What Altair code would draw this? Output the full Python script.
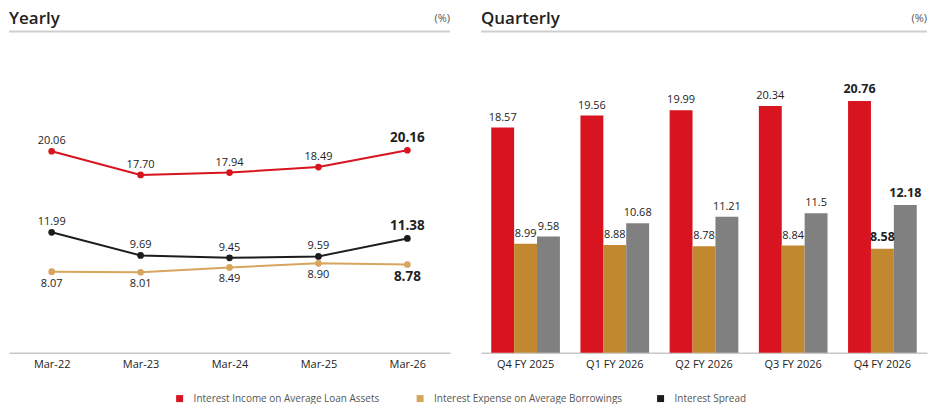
import pandas as pd
import altair as alt

FONT = "Open Sans"

# -------------------------
# data
# -------------------------
SERIES = [
    "Interest Income on Average Loan Assets",
    "Interest Expense on Average Borrowings",
    "Interest Spread",
]

YEARS = ["Mar-22", "Mar-23", "Mar-24", "Mar-25", "Mar-26"]
INCOME_Y = [20.06, 17.70, 17.94, 18.49, 20.16]
EXPENSE_Y = [8.07, 8.01, 8.49, 8.90, 8.78]
SPREAD_Y = [11.99, 9.69, 9.45, 9.59, 11.38]

QUARTERS = ["Q4 FY 2025", "Q1 FY 2026", "Q2 FY 2026", "Q3 FY 2026", "Q4 FY 2026"]
INCOME_Q = [18.57, 19.56, 19.99, 20.34, 20.76]
EXPENSE_Q = [8.99, 8.88, 8.78, 8.84, 8.58]
SPREAD_Q = [9.58, 10.68, 11.21, 11.5, 12.18]

LINE_COLORS = ["#d7141f", "#d8a55e", "#1c1c1c"]
BAR_COLORS = ["#d7141f", "#c1882f", "#808080"]

UNIT = "(%)"

W1, W2, H = 442, 447, 322

yearly = pd.DataFrame({
    "period": YEARS * 3,
    "series": [s for s in SERIES for _ in YEARS],
    "value": INCOME_Y + EXPENSE_Y + SPREAD_Y,
})
yearly["label"] = yearly["value"].map(lambda v: f"{v:.2f}")
yearly["last"] = yearly["period"] == YEARS[-1]
yearly["below"] = yearly["series"] == SERIES[1]

quarterly = pd.DataFrame({
    "period": QUARTERS * 3,
    "series": [s for s in SERIES for _ in QUARTERS],
    "value": INCOME_Q + EXPENSE_Q + SPREAD_Q,
})
quarterly["label"] = quarterly["value"].map(str)
quarterly["last"] = quarterly["period"] == QUARTERS[-1]

x_axis = alt.Axis(
    title=None, labelAngle=0, ticks=False, labelPadding=6,
    labelFont=FONT, labelFontSize=11, labelColor="#222",
    domainColor="#c8c8c8", domainWidth=1.5,
)


# panel header: title at left, unit at right, grey rule on top of the plot
def header(title, width):
    head = pd.DataFrame({"title": [title], "unit": [UNIT]})
    top_rule = alt.Chart(head).mark_rule(color="#cfcfcf", strokeWidth=2).encode(
        x=alt.value(0), x2=alt.value(width), y=alt.value(0)
    )
    name = alt.Chart(head).mark_text(
        align="left", baseline="middle", font=FONT, fontSize=17,
        fontWeight=600, color="#222"
    ).encode(text="title:N", x=alt.value(0), y=alt.value(-12))
    unit = alt.Chart(head).mark_text(
        align="right", baseline="middle", font=FONT, fontSize=11, color="#555"
    ).encode(text="unit:N", x=alt.value(width), y=alt.value(-12))
    return top_rule + name + unit


# -------------------------
# Yearly (lines)
# -------------------------
ybase = alt.Chart(yearly).encode(
    x=alt.X("period:N", sort=YEARS, axis=x_axis, scale=alt.Scale(type="point", padding=0.48)),
    y=alt.Y("value:Q", axis=None, scale=alt.Scale(domain=[0, 32])),
)

color_line = alt.Color(
    "series:N", sort=SERIES,
    scale=alt.Scale(domain=SERIES, range=LINE_COLORS),
)

lines = ybase.mark_line(strokeWidth=2).encode(color=color_line.legend(None))
dots = ybase.mark_circle(size=45, opacity=1).encode(
    color=color_line.legend(
        alt.Legend(
            orient="none", legendX=166, legendY=363, direction="horizontal",
            columns=3, gridAlign="all", columnPadding=33, padding=0,
            symbolType="square", symbolSize=49, symbolStrokeWidth=0,
            labelFont=FONT, labelFontSize=10, labelColor="#555",
            labelOffset=9, title=None, labelLimit=300,
        )
    )
)


def ylabels(expr, baseline, dy, size, weight):
    return ybase.transform_filter(expr).mark_text(
        baseline=baseline, dy=dy, font=FONT, fontSize=size,
        fontWeight=weight, color="#222",
    ).encode(text="label:N")


yearly_chart = (
    header("Yearly", W1)
    + lines + dots
    + ylabels("!datum.below && !datum.last", "bottom", -5, 11, "normal")
    + ylabels("!datum.below && datum.last", "bottom", -5, 13.5, "bold")
    + ylabels("datum.below && !datum.last", "top", 6, 11, "normal")
    + ylabels("datum.below && datum.last", "top", 6, 13.5, "bold")
).resolve_legend(color="independent").properties(width=W1, height=H)

# -------------------------
# Quarterly (grouped bars)
# -------------------------
qbase = alt.Chart(quarterly).encode(
    x=alt.X("period:N", sort=QUARTERS, axis=x_axis,
            scale=alt.Scale(paddingInner=0.23, paddingOuter=0.115)),
    xOffset=alt.XOffset("series:N", sort=SERIES, scale=alt.Scale(domain=SERIES)),
    y=alt.Y("value:Q", axis=None, scale=alt.Scale(domain=[0, 26.5])),
)

bars = qbase.mark_bar().encode(
    color=alt.Color("series:N", sort=SERIES,
                    scale=alt.Scale(domain=SERIES, range=BAR_COLORS), legend=None)
)


def qlabels(expr, size, weight):
    return qbase.transform_filter(expr).mark_text(
        baseline="bottom", dy=-5, font=FONT, fontSize=size,
        fontWeight=weight, color="#222",
    ).encode(text="label:N")


quarterly_chart = (
    header("Quarterly", W2)
    + bars
    + qlabels("!datum.last", 11, "normal")
    + qlabels("datum.last", 12.5, "bold")
).properties(width=W2, height=H)

chart = (
    alt.hconcat(yearly_chart, quarterly_chart, spacing=31, bounds="flush")
    .resolve_scale(color="independent")
    .properties(padding={"top": 2, "left": 0, "right": 0, "bottom": 0})
    .configure_view(stroke=None)
)

chart.save("out.html", embed_options={"renderer": "svg", "actions": False})
print("saved to out.html")
